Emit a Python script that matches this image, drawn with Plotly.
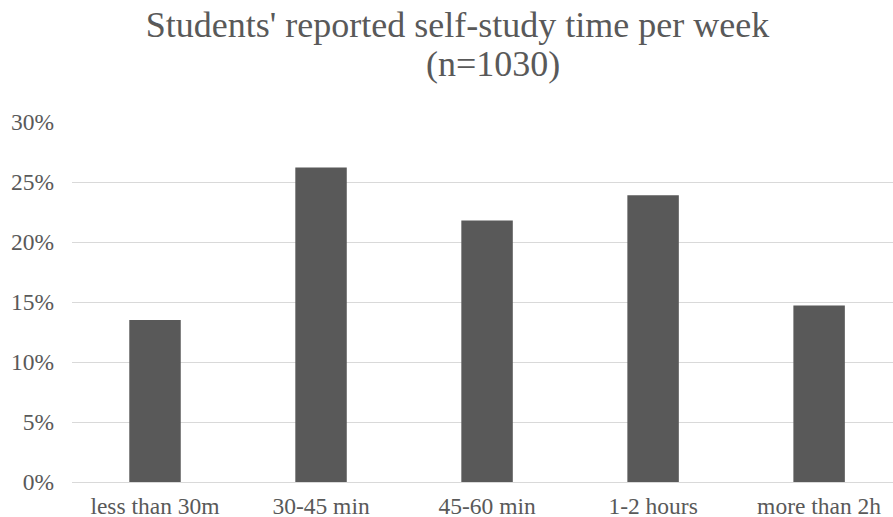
import plotly.graph_objects as go

categories = ["less than 30m", "30-45 min", "45-60 min", "1-2 hours", "more than 2h"]
shares = [0.135, 0.262, 0.218, 0.239, 0.147]
y_ticks = [0, 0.05, 0.10, 0.15, 0.20, 0.25, 0.30]
y_tick_labels = ["0%", "5%", "10%", "15%", "20%", "25%", "30%"]
title_line1 = "Students' reported self-study time per week"
title_line2 = "(n=1030)"

FONT = "Liberation Serif, Times New Roman, serif"
TEXT = "#595959"
TICK_SIZE = 23.5

fig = go.Figure(
    go.Bar(
        x=list(range(len(categories))),
        y=shares,
        marker=dict(color="#595959", line=dict(width=0)),
        hoverinfo="skip",
    )
)

fig.update_layout(
    width=893,
    height=517,
    autosize=False,
    margin=dict(l=72, r=0, t=122, b=35, autoexpand=False),
    paper_bgcolor="white",
    plot_bgcolor="white",
    bargap=0.69,
    showlegend=False,
    font=dict(family=FONT, color=TEXT, size=TICK_SIZE),
    title=dict(
        text=title_line1,
        x=457.5 / 893,
        xref="container",
        xanchor="center",
        y=1,
        yref="container",
        yanchor="top",
        pad=dict(t=12),
        font=dict(family=FONT, size=36, color=TEXT),
    ),
    annotations=[
        dict(
            text=title_line2,
            x=457.5 / 893,
            xref="paper",
            xanchor="center",
            y=(482 - 64) / 360,
            yref="paper",
            yanchor="middle",
            showarrow=False,
            font=dict(family=FONT, size=36, color=TEXT),
        )
    ],
)

fig.update_xaxes(
    tickmode="array",
    tickvals=list(range(len(categories))),
    ticktext=categories,
    range=[-0.5, 4.445],
    automargin=False,
    showgrid=False,
    showline=True,
    linecolor="#d9d9d9",
    linewidth=1,
    ticks="",
    ticklabelstandoff=3,
    tickfont=dict(family=FONT, size=TICK_SIZE, color=TEXT),
)

fig.update_yaxes(
    range=[0, 0.30],
    tickmode="array",
    tickvals=y_ticks,
    ticktext=y_tick_labels,
    automargin=False,
    showgrid=True,
    gridcolor="#d9d9d9",
    gridwidth=1,
    zeroline=False,
    showline=False,
    ticks="",
    ticklabelstandoff=17,
    tickfont=dict(family=FONT, size=TICK_SIZE, color=TEXT),
)

fig.write_html(
    "out.html",
    config={"displayModeBar": False},
    post_script="document.body.style.margin='0';",
)
